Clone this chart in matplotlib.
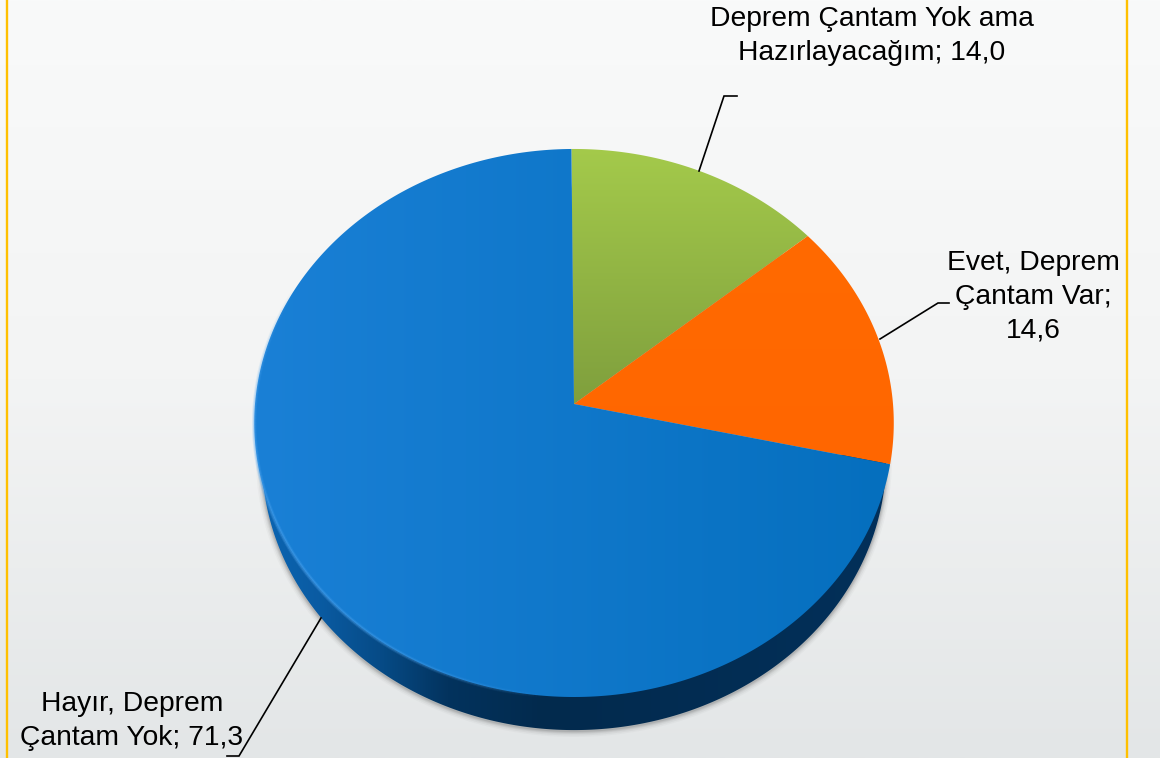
import matplotlib
matplotlib.use("Agg")
import matplotlib.pyplot as plt
import numpy as np
from matplotlib.collections import LineCollection
from matplotlib.colors import LinearSegmentedColormap, to_rgb
from matplotlib.patches import Polygon

plt.rcParams["font.family"] = ["Liberation Sans", "DejaVu Sans"]

# clockwise from 12 o'clock
names = ["Deprem Çantam Yok ama\nHazırlayacağım", "Evet, Deprem\nÇantam Var", "Hayır, Deprem\nÇantam Yok"]
values = [14.0, 14.6, 71.3]

CX, APEX_Y = 574, 404
A, B, K = 319, 272.7, 0.0693


def top_face(theta):
    # tilted disc with a little perspective, theta clockwise from the top
    u, v = np.sin(theta), np.cos(theta)
    d = 1 + K * v
    return CX + A * u / d, APEX_Y - B * v / d


def bottom_edge(theta):
    u, v = np.sin(theta), np.cos(theta)
    d = 1 + K * v
    return CX + 0.976 * A * u / d, APEX_Y + 36 + 0.99 * B * -v / d


def grad_fill(ax, poly, c0, c1, axis="y", z=2):
    # gradient image clipped to a polygon
    x0, y0 = poly.min(axis=0)
    x1, y1 = poly.max(axis=0)
    cmap = LinearSegmentedColormap.from_list("g", [c0, c1])
    g = np.linspace(0, 1, 256)
    arr = g.reshape(-1, 1) if axis == "y" else g.reshape(1, -1)
    im = ax.imshow(arr, cmap=cmap, extent=[x0, x1, y1, y0], aspect="auto", zorder=z, interpolation="bilinear")
    patch = Polygon(poly, closed=True, transform=ax.transData, fc="none", ec="none")
    ax.add_patch(patch)
    im.set_clip_path(patch)
    return im


fig = plt.figure(figsize=(11.6, 7.58), dpi=100)
ax = fig.add_axes([0, 0, 1, 1])

# page background
bg = LinearSegmentedColormap.from_list("bg", ["#f9fafa", "#f3f4f4", "#e3e6e7"])
ax.imshow(np.linspace(0, 1, 256).reshape(-1, 1), cmap=bg, extent=[0, 1160, 758, 0], aspect="auto", zorder=0)

# frame lines left and right
ax.plot([7, 7], [0, 758], color="#ffc000", lw=1.7, zorder=1)
ax.plot([1127, 1127], [0, 758], color="#ffc000", lw=1.7, zorder=1)

t = np.linspace(0, 2 * np.pi, 721)

# soft shadow under the disc
bx, by = bottom_edge(t)
for grow, al in zip([6, 4.5, 3, 2, 1], [0.03, 0.05, 0.07, 0.09, 0.12]):
    sx = CX + (bx - CX) * (1 + grow / 320)
    sy = 460 + (by - 460) * (1 + grow / 275) + 1
    ax.fill(sx, sy, color="#404040", alpha=al, lw=0, zorder=1.5)

# side wall, dark from the front to the right
side = np.column_stack([bx, by])
side_cmap = LinearSegmentedColormap.from_list(
    "side",
    [(0, "#0b66b4"), (0.1, "#0a5ba2"), (0.2, "#064a85"), (0.3, "#03335e"), (0.45, "#022a4d"), (1, "#03305a")],
)
im = ax.imshow(np.linspace(0, 1, 256).reshape(1, -1), cmap=side_cmap, extent=[255, 895, 735, 455], aspect="auto", zorder=1.8)
clip = Polygon(side, closed=True, transform=ax.transData, fc="none", ec="none")
ax.add_patch(clip)
im.set_clip_path(clip)

# top face, slice angles from the values
edges = np.radians(-0.5) + np.concatenate([[0], np.cumsum(values)]) / sum(values) * 2 * np.pi
fills = [("#a4ca4b", "#7f9f3d", "y"), ("#ff6a00", "#ff6600", "y"), ("#1a80d6", "#056fbe", "x")]
for i, (c0, c1, axis) in enumerate(fills):
    a = np.linspace(edges[i], edges[i + 1], 300)
    ex, ey = top_face(a)
    poly = np.column_stack([np.r_[CX, ex], np.r_[APEX_Y, ey]])
    grad_fill(ax, poly, c0, c1, axis=axis, z=2 + i * 0.1)

# light rim on the blue slice, strongest lower left
a = np.linspace(np.radians(185), np.radians(295), 200)
ex, ey = top_face(a)
segs = np.stack([np.column_stack([ex[:-1], ey[:-1]]), np.column_stack([ex[1:], ey[1:]])], axis=1)
env = np.sin((a[:-1] - a[0]) / (a[-1] - a[0]) * np.pi) ** 0.7
rim_rgb = to_rgb("#52a8f2")
for lw, al in [(3.2, 0.2), (1.8, 0.35)]:
    cols = [(*rim_rgb, al * e) for e in env]
    lc = LineCollection(segs, colors=cols, linewidths=lw, zorder=2.6, capstyle="butt")
    ax.add_collection(lc)

# leader lines
leaders = [
    ([699, 724, 737], [171, 96, 96]),
    ([880, 938, 949], [339, 303, 303]),
    ([321, 239, 227], [618, 756, 756]),
]
for lx, ly in leaders:
    ax.plot(lx, ly, color="black", lw=1.2, zorder=3, solid_joinstyle="miter")

# data labels
label_pos = [(872, 36), (1033, 297), (132, 721)]
for name, val, (px, py) in zip(names, values, label_pos):
    txt = f"{name}; {val:.1f}".replace(".", ",")
    if name.startswith("Evet"):
        txt = f"{name};\n{val:.1f}".replace(".", ",")
    ax.text(px, py, txt, ha="center", va="center", fontsize=20.3, color="black", linespacing=1.38, zorder=4)

ax.set_xlim(0, 1160)
ax.set_ylim(758, 0)
ax.axis("off")

fig.savefig("out.png", dpi=100)
